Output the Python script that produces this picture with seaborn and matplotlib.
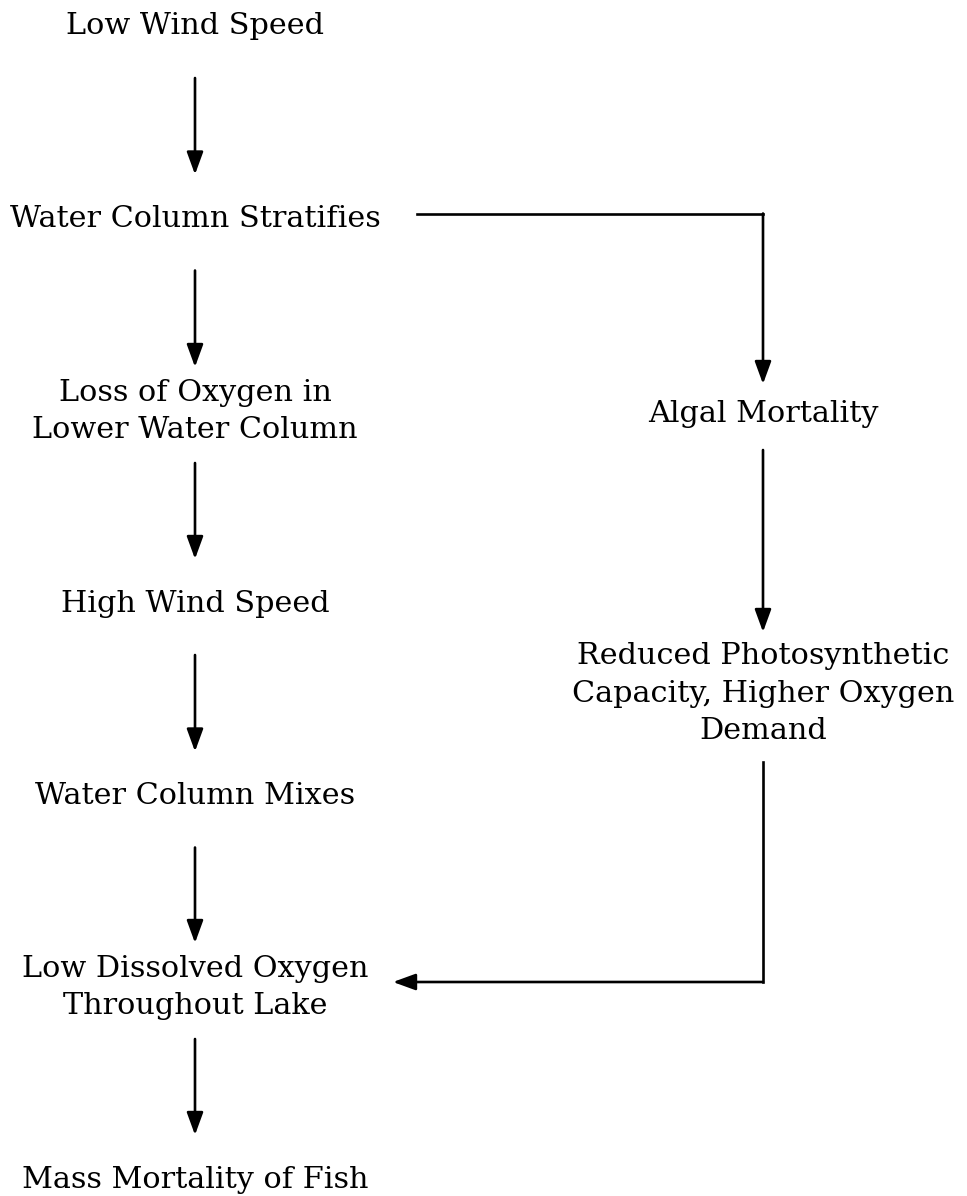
import matplotlib
matplotlib.use("Agg")
import matplotlib.pyplot as plt
import seaborn as sns
import pandas as pd

# flowchart content
steps = [
    "Low Wind Speed",
    "Water Column Stratifies",
    "Loss of Oxygen in\nLower Water Column",
    "High Wind Speed",
    "Water Column Mixes",
    "Low Dissolved Oxygen\nThroughout Lake",
    "Mass Mortality of Fish",
    "Algal Mortality",
    "Reduced Photosynthetic\nCapacity, Higher Oxygen\nDemand",
]
link_src = [0, 1, 2, 3, 4, 5, 1, 7, 8]
link_dst = [1, 2, 3, 4, 5, 6, 7, 8, 5]

# layout in pixels (y grows downward)
W, H = 967, 1196
node_x = [195, 195, 195, 195, 195, 195, 195, 763, 763]
node_cy = [30, 222.5, 415, 607, 799.5, 991, 1183, 417, 697]
node_half_h = [48, 48, 48, 48, 48, 48, 48, 33, 65]
node_half_w = [200, 222, 200, 200, 200, 198, 200, 150, 190]
line_gap = 37.5
cap_h = 21
side_drop = 9  # side connectors sit a little above box centre

sns.set_theme(style="white")
plt.rcParams["font.family"] = ["DejaVu Serif"]

fig = plt.figure(figsize=(9.67, 11.96), dpi=100)
ax = fig.add_axes([0, 0, 1, 1])

# labels, one text per line so baselines land where they should
for i, label in enumerate(steps):
    lines = label.split("\n")
    block = cap_h + (len(lines) - 1) * line_gap
    first = (node_cy[i] - 6) - block / 2 + cap_h
    for k, ln in enumerate(lines):
        ax.text(node_x[i], first + k * line_gap, ln, ha="center", va="baseline",
                fontsize=21.8, color="black")

arrow_kw = dict(arrowstyle="-|>,head_length=1.37,head_width=0.5", mutation_scale=10,
                color="black", lw=1.9, shrinkA=0, shrinkB=0)

for s, d in zip(link_src, link_dst):
    if node_x[s] == node_x[d]:
        pts = [(node_x[s], node_cy[s] + node_half_h[s]),
               (node_x[d], node_cy[d] - node_half_h[d])]
    elif node_x[d] > node_x[s]:
        y0 = node_cy[s] - side_drop
        pts = [(node_x[s] + node_half_w[s], y0), (node_x[d], y0),
               (node_x[d], node_cy[d] - node_half_h[d])]
    else:
        y1 = node_cy[d] - side_drop
        pts = [(node_x[s], node_cy[s] + node_half_h[s]), (node_x[s], y1),
               (node_x[d] + node_half_w[d], y1)]
    # plain segments through seaborn, last segment gets the arrowhead
    if len(pts) > 2:
        seg = pd.DataFrame(pts[:-1], columns=["x", "y"])
        sns.lineplot(data=seg, x="x", y="y", sort=False, estimator=None,
                     color="black", lw=1.9, solid_capstyle="projecting", ax=ax)
    ax.annotate("", xy=pts[-1], xytext=pts[-2], arrowprops=arrow_kw)

ax.set_xlim(0, W)
ax.set_ylim(H, 0)
ax.axis("off")
fig.savefig("out.png", dpi=100, facecolor="white")
